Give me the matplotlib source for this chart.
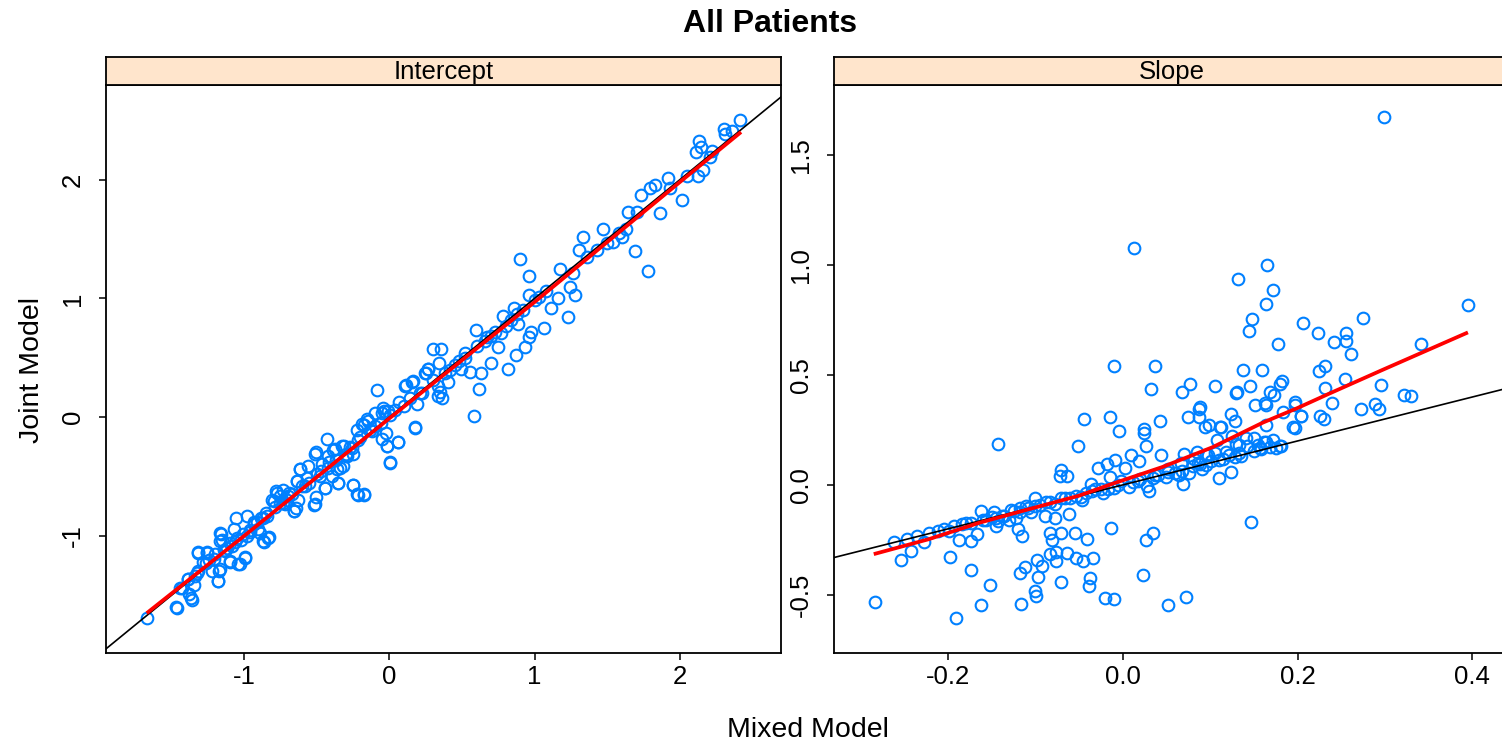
import numpy as np
import matplotlib.pyplot as plt

plt.rcParams["font.family"] = ["Liberation Sans", "DejaVu Sans"]

# Intercept panel: mixed model (x) vs joint model (y) random intercepts
mixed_int = [-1.668, -1.462, -1.438, -1.386, -1.377, -1.365, -1.359, -1.341, -1.319, -1.256,
             -1.326, -1.265, -1.219, -1.180, -1.174, -1.210, -1.159, -1.168, -1.129, -1.098,
             -1.083, -1.068, -1.053, -1.029, -0.992, -1.023, -0.977, -0.962, -0.932, -0.901,
             -0.886, -0.865, -0.826, -0.847, -0.795, -0.780, -0.750, -0.705, -0.659, -0.644,
             -0.735, -0.690, -0.638, -0.614, -0.568, -0.517, -0.508, -0.508, -0.441, -0.432,
             -0.462, -0.417, -0.386, -0.356, -0.341, -0.311, -0.296, -0.250, -0.220, -0.174,
             -0.250, -0.205, -0.174, -0.144, -0.083, -0.098, -0.053, -0.023, -0.017, 0.007,
             -0.038, 0.007, 0.062, 0.068, 0.113, 0.174, 0.159, 0.189, 0.250, 0.265,
             0.341, 0.356, 0.365, 0.347, 0.401, 0.386, 0.492, 0.522, 0.553, 0.598,
             0.619, 0.628, 0.583, 0.698, 0.674, 0.750, 0.780, 0.819, 0.771, 0.871,
             0.886, 0.931, 0.962, 0.977, 0.856, 0.901, 0.962, 0.962, 1.062, 1.113,
             1.159, 1.228, 1.280, 1.244, 1.174, 1.265, 1.304, 1.331, 1.431, 1.470,
             1.537, 1.598, 1.628, 1.689, 1.780, 1.643, 1.704, 1.734, 1.795, 1.825,
             1.864, 1.916, 1.931, 2.013, 2.113, 2.128, 2.143, 2.122, 2.158, 2.204,
             2.219, 2.304, 2.310, 2.355, 2.410,
             0.175, 0.003, -0.249, -0.219, -0.175, -0.352, -0.513, -0.655, -0.444, 0.056,
             -0.019, -0.043, -0.008, -0.054, 0.107, 0.164, 0.244, 0.267, 0.222, 0.336,
             0.336, 0.300, -0.811, -0.776, -0.731, -0.696, -0.639, -0.616, -0.559, -0.513,
             -0.478, -0.421, -0.375, -0.329, -0.295, -0.260, -0.215, -0.363, -0.318, -0.398,
             -0.582, -0.628, -0.754, -0.157, -0.191, -0.226, -0.134, -0.100,
             -1.465, -1.430, -1.385, -1.339, -1.316, -1.316, -1.258, -1.178, -1.167, -1.167,
             -1.155, -1.098, -1.041, -0.995, -0.891, -0.868, -0.834,
             -1.12, -1.05, -0.98, -0.93, -0.87, -0.60, -0.47, 0.45, 0.52, 0.70,
             0.84, 1.03, 1.36, 1.50, 1.58, 2.05,
             -1.28, -1.24, -1.20, -1.14, -1.10, -1.06, -1.01, -0.96, -0.91, -0.84,
             -0.79, -0.72, -0.67, -0.55, -0.50, -0.42, -0.37, -0.30, -0.27, -0.12,
             -0.06, 0.04, 0.10, 0.14, 0.21, 0.30, 0.42, 0.48, 0.60, 0.66,
             0.73, 0.80, 0.88, 0.92, 1.00, 1.08]
joint_int = [-1.694, -1.608, -1.441, -1.360, -1.490, -1.523, -1.540, -1.409, -1.140, -1.140,
             -1.311, -1.229, -1.294, -1.376, -1.294, -1.196, -0.983, -1.039, -1.130, -1.222,
             -1.081, -0.940, -0.845, -1.235, -1.180, -1.032, -0.836, -0.967, -0.885, -0.940,
             -0.852, -1.048, -1.006, -0.803, -0.705, -0.623, -0.665, -0.698, -0.786, -0.763,
             -0.721, -0.639, -0.541, -0.433, -0.508, -0.737, -0.672, -0.295, -0.600, -0.180,
             -0.393, -0.377, -0.279, -0.557, -0.426, -0.246, -0.328, -0.574, -0.649, -0.649,
             -0.311, -0.164, -0.066, -0.033, 0.229, 0.032, -0.180, -0.131, -0.246, -0.377,
             0.049, 0.016, -0.207, 0.131, 0.272, -0.082, 0.295, 0.114, 0.376, 0.409,
             0.458, 0.573, 0.163, 0.213, 0.295, 0.376, 0.409, 0.540, 0.383, 0.737,
             0.239, 0.376, 0.010, 0.458, 0.671, 0.589, 0.851, 0.409, 0.711, 0.524,
             0.786, 0.589, 0.671, 0.720, 0.917, 1.333, 1.186, 1.032, 0.747, 0.917,
             0.999, 0.842, 1.032, 1.097, 1.244, 1.212, 1.408, 1.516, 1.408, 1.588,
             1.474, 1.516, 1.588, 1.402, 1.228, 1.726, 1.726, 1.867, 1.932, 1.958,
             1.719, 2.014, 1.932, 1.827, 2.234, 2.325, 2.276, 2.030, 2.080, 2.194,
             2.243, 2.424, 2.381, 2.407, 2.505,
             -0.089, -0.384, -0.572, -0.651, -0.651, -0.558, -0.735, -0.791, -0.594, -0.210,
             -0.244, 0.079, 0.050, 0.037, 0.261, 0.303, 0.374, 0.402, 0.205, 0.177,
             0.261, 0.570, -0.693, -0.637, -0.609, -0.665, -0.539, -0.440, -0.412, -0.314,
             -0.497, -0.328, -0.272, -0.244, -0.328, -0.258, -0.188, -0.440, -0.412, -0.497,
             -0.581, -0.693, -0.721, -0.019, -0.061, -0.104, -0.104, -0.076,
             -1.599, -1.436, -1.366, -1.338, -1.296, -1.136, -1.136, -1.380, -1.282, -0.979,
             -1.030, -1.212, -1.240, -1.184, -0.973, -1.044, -1.015,
             -1.10, -1.02, -1.00, -0.90, -0.85, -0.58, -0.45, 0.44, 0.50, 0.68,
             0.82, 1.01, 1.35, 1.47, 1.55, 2.03,
             -1.22, -1.20, -1.15, -1.12, -1.06, -1.05, -0.98, -0.95, -0.88, -0.83,
             -0.76, -0.73, -0.65, -0.55, -0.48, -0.43, -0.36, -0.31, -0.25, -0.12,
             -0.05, 0.06, 0.09, 0.16, 0.20, 0.31, 0.40, 0.47, 0.60, 0.64,
             0.72, 0.77, 0.87, 0.90, 0.99, 1.06]

# Slope panel
mixed_slope = [0.2993, 0.0133, 0.1649, 0.1320, 0.1718, 0.1644, 0.1482, 0.1448, 0.3950, 0.2066,
               0.2748, 0.2238, 0.2557, 0.2414, 0.2552, 0.1776, 0.2611, 0.3410, -0.0103, 0.0368,
               0.1374, 0.1590, 0.2247, 0.2316, 0.2547, 0.2316, 0.2954, 0.3224, 0.3293, 0.0319,
               0.0672, 0.0770, 0.1050, 0.1457, 0.1305, 0.1291, 0.1688, 0.1801, 0.1826, 0.1727,
               0.1639, 0.1511, 0.2399, 0.1972, 0.2723, 0.2934, 0.2885, 0.2252, 0.2307, 0.2037,
               0.1968, 0.1948, -0.0442, -0.0152, -0.0039, 0.0422, 0.0246, 0.0246, 0.0741, 0.0869,
               0.0888, 0.0869, 0.0982, 0.0937, 0.1119, 0.1237, 0.1286, 0.1830, 0.1634, 0.1624,
               -0.1423, -0.0515, 0.0270, 0.0432, 0.0098, 0.0182, -0.0088, -0.0186, -0.0285, 0.0025,
               -0.0711, -0.0638, -0.0721, -0.0368, -0.0147, -0.0221, 0.0074, 0.0295, 0.0280, 0.0491,
               0.0638, 0.0702, 0.0849, 0.0977, 0.1080, 0.1114, 0.1251, 0.1325, 0.1408, 0.1570,
               0.1644, 0.1816, 0.1104, 0.1241, 0.0687, 0.0761, 0.0859, 0.1006, 0.1212, 0.1325,
               0.0908, 0.1467, -0.0138, 0.0344, 0.0270, 0.0236, 0.0726, 0.0515, -0.0103, -0.0201,
               -0.0378, -0.0388, -0.0702, -0.1006, -0.0996, -0.1163, -0.1173, -0.1124, -0.0976, -0.0986,
               -0.0927, -0.0829, -0.0760, -0.0760, -0.0638, -0.0530, -0.0456, -0.0338, -0.0407, -0.0549,
               -0.0702, -0.0829, -0.0810, -0.0775, -0.0893, -0.0613, -0.1153, -0.1202, -0.1516, -0.1619,
               -0.1742, -0.1909, -0.1982, -0.2537, -0.2419, -0.2841, -0.1874, -0.1737, -0.1668, -0.2615,
               -0.2468, -0.2350, -0.2272, -0.2223, -0.2110, -0.1987, -0.1929, -0.1840, -0.1742, -0.1619,
               -0.1570, -0.1472, -0.1423, -0.1359, -0.1276, -0.1227, -0.1178, -0.1104, -0.1055, -0.1006,
               -0.0884, -0.0711, -0.0540, -0.0466, -0.0417, -0.0319, -0.0172, -0.0025, 0.0172, 0.0368,
               0.0515, 0.0662, 0.0810, 0.0957, 0.1055, 0.1178, 0.1300, 0.1423, 0.1497, 0.1546,
               0.1620, 0.1718, 0.1801, 0.1972, 0.2037, -0.1300, -0.1447,
               -0.150, -0.138, -0.125, -0.108, -0.095, -0.083, -0.060, -0.035, -0.005, 0.012,
               0.040, 0.060, 0.080, 0.095, 0.115, 0.135, 0.150, 0.175,
               -0.205, -0.180, -0.160, -0.145, -0.118, -0.100, -0.078, -0.066, -0.048, -0.025,
               -0.010, 0.020, 0.035, 0.052, 0.068, 0.088, 0.110, 0.128, 0.158, 0.168]
joint_slope = [1.675, 1.076, 1.000, 0.939, 0.886, 0.825, 0.753, 0.701, 0.817, 0.738,
               0.758, 0.692, 0.690, 0.649, 0.655, 0.642, 0.598, 0.641, 0.539, 0.539,
               0.522, 0.522, 0.520, 0.543, 0.481, 0.442, 0.456, 0.410, 0.404, 0.438,
               0.424, 0.459, 0.452, 0.450, 0.424, 0.419, 0.424, 0.459, 0.472, 0.410,
               0.365, 0.365, 0.374, 0.379, 0.347, 0.344, 0.369, 0.315, 0.299, 0.315,
               0.259, 0.264, 0.299, 0.307, 0.244, 0.291, 0.253, 0.236, 0.308, 0.308,
               0.353, 0.347, 0.271, 0.264, 0.264, 0.321, 0.291, 0.330, 0.271, 0.371,
               0.184, 0.177, 0.179, 0.136, 0.136, 0.108, 0.113, 0.093, 0.077, 0.077,
               0.067, 0.042, 0.040, 0.005, 0.037, -0.035, -0.008, -0.026, -0.003, 0.037,
               0.045, 0.139, 0.152, 0.134, 0.205, 0.264, 0.223, 0.182, 0.214, 0.170,
               0.196, 0.179, 0.033, 0.060, 0.006, 0.054, 0.099, 0.108, 0.134, 0.143,
               0.072, -0.171, -0.198, -0.218, -0.251, -0.408, -0.509, -0.546, -0.520, -0.514,
               -0.425, -0.458, -0.443, -0.482, -0.505, -0.541, -0.402, -0.372, -0.420, -0.342,
               -0.367, -0.315, -0.306, -0.345, -0.310, -0.333, -0.345, -0.333, -0.248, -0.221,
               -0.221, -0.221, -0.251, -0.150, -0.141, -0.132, -0.234, -0.200, -0.456, -0.546,
               -0.388, -0.607, -0.328, -0.344, -0.299, -0.532, -0.253, -0.255, -0.225, -0.262,
               -0.244, -0.234, -0.262, -0.221, -0.209, -0.212, -0.186, -0.177, -0.173, -0.120,
               -0.159, -0.123, -0.162, -0.141, -0.115, -0.150, -0.106, -0.097, -0.123, -0.061,
               -0.079, -0.061, -0.052, -0.070, -0.035, -0.017, -0.017, 0.019, 0.019, 0.045,
               0.072, 0.099, 0.116, 0.134, 0.143, 0.152, 0.187, 0.179, 0.214, 0.182,
               0.196, 0.205, 0.179, 0.362, 0.312, -0.159, -0.186,
               -0.145, -0.140, -0.118, -0.105, -0.092, -0.080, -0.058, -0.030, 0.000, 0.015,
               0.045, 0.055, 0.085, 0.090, 0.118, 0.130, 0.155, 0.170,
               -0.200, -0.172, -0.158, -0.150, -0.122, -0.098, -0.088, -0.060, -0.055, -0.020,
               -0.012, 0.025, 0.030, 0.060, 0.062, 0.095, 0.112, 0.125, 0.165, 0.172]

# loess smooths
smooth_int_x = [-1.67, -1.0, 0.0, 1.0, 2.0, 2.42]
smooth_int_y = [-1.65, -1.00, -0.01, 0.97, 1.98, 2.40]
smooth_slope_x = [-0.285, -0.222, -0.164, -0.107, -0.050, -0.012, 0.045, 0.103, 0.160, 0.200, 0.236, 0.297, 0.395]
smooth_slope_y = [-0.315, -0.247, -0.172, -0.110, -0.049, 0.005, 0.081, 0.172, 0.283, 0.350, 0.415, 0.523, 0.694]

panels = ["Intercept", "Slope"]
xlims = [(-1.95, 2.695), (-0.3305, 0.442)]
ylims = [(-1.985, 2.796), (-0.765, 1.82)]
xticks = [[-1, 0, 1, 2], [-0.2, 0.0, 0.2, 0.4]]
yticks = [[-1, 0, 1, 2], [-0.5, 0.0, 0.5, 1.0, 1.5]]
xfmt = ["{:g}", "{:.1f}"]
yfmt = ["{:g}", "{:.1f}"]

W, H = 1502, 746
fig = plt.figure(figsize=(W / 100, H / 100), dpi=100)

lefts = [106, 834]
pw, top, bot = 675, 85, 653
data = [(mixed_int, joint_int, smooth_int_x, smooth_int_y),
        (mixed_slope, joint_slope, smooth_slope_x, smooth_slope_y)]

for i in range(2):
    ax = fig.add_axes([lefts[i] / W, (H - bot) / H, pw / W, (bot - top) / H])
    x, y, sx, sy = data[i]
    ax.plot(x, y, "o", mfc="none", mec="#0080ff", ms=8.4, mew=1.5, zorder=2)
    lo = min(xlims[i][0], ylims[i][0]) - 1
    hi = max(xlims[i][1], ylims[i][1]) + 1
    ax.plot([lo, hi], [lo, hi], color="black", lw=1.2, zorder=3)
    ax.plot(sx, sy, color="red", lw=2.7, zorder=4, solid_capstyle="butt")
    ax.set_xlim(xlims[i])
    ax.set_ylim(ylims[i])
    ax.set_xticks(xticks[i])
    ax.set_xticklabels([xfmt[i].format(v) for v in xticks[i]])
    ax.set_yticks(yticks[i])
    ax.set_yticklabels([yfmt[i].format(v) for v in yticks[i]], rotation=90, va="center")
    ax.tick_params(direction="out", length=5, width=1.1, labelsize=18.5, top=False, right=False)
    ax.tick_params(axis="x", pad=4)
    ax.tick_params(axis="y", pad=10)
    for s in ax.spines.values():
        s.set_linewidth(1.3)

    strip = fig.add_axes([lefts[i] / W, (H - top) / H, pw / W, 28 / H])
    strip.set_facecolor("#ffe5cc")
    strip.set_xticks([])
    strip.set_yticks([])
    for s in strip.spines.values():
        s.set_linewidth(1.3)
    strip.text(0.5, 0.45, panels[i], ha="center", va="center", fontsize=18.5,
               transform=strip.transAxes)

fig.text(770 / W, 1 - 24 / H, "All Patients", ha="center", va="center",
         fontsize=23, fontweight="bold")
fig.text(808 / W, 1 - 730 / H, "Mixed Model", ha="center", va="center", fontsize=20.5)
fig.text(32 / W, 1 - 370 / H, "Joint Model", ha="center", va="center", fontsize=20.5,
         rotation=90)

fig.savefig("out.png", dpi=100)
